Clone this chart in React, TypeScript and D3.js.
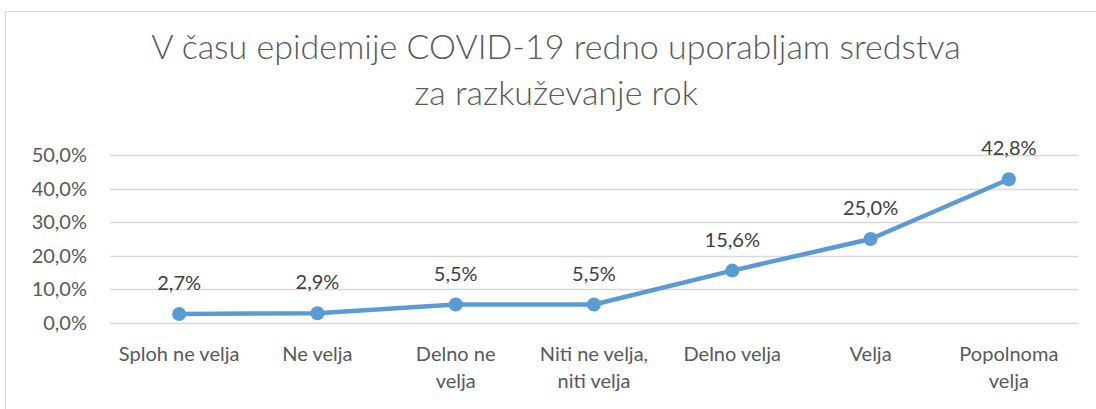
import * as d3 from "d3";
import { useEffect, useRef } from "react";

const categories = [
  "Sploh ne velja",
  "Ne velja",
  "Delno ne|velja",
  "Niti ne velja,|niti velja",
  "Delno velja",
  "Velja",
  "Popolnoma|velja",
];
const values = [2.7, 2.9, 5.5, 5.5, 15.6, 25.0, 42.8];
const yTicks = [0, 10, 20, 30, 40, 50];
const titleLines = [
  "V času epidemije COVID-19 redno uporabljam sredstva",
  "za razkuževanje rok",
];

const WIDTH = 1096;
const HEIGHT = 409;
const FONT = "Lato, 'Open Sans', sans-serif";
const TEXT = "#595959";
const LINE = "#5B9BD5";

const fmt = (v: number, dec: number) => v.toFixed(dec).replace(".", ",") + "%";

export default function App() {
  const svgRef = useRef<SVGSVGElement | null>(null);

  useEffect(() => {
    const svg = d3.select(svgRef.current);
    svg.selectAll("*").remove();

    const margin = { top: 155, right: 18, bottom: 86, left: 110 };

    // chart frame
    svg
      .append("rect")
      .attr("x", 5.5)
      .attr("y", 11.5)
      .attr("width", WIDTH)
      .attr("height", HEIGHT)
      .attr("fill", "#fff")
      .attr("stroke", "#d9d9d9");

    // title
    svg
      .append("g")
      .selectAll("text")
      .data(titleLines)
      .join("text")
      .attr("x", 556)
      .attr("y", (_, i) => 59 + i * 46)
      .attr("text-anchor", "middle")
      .attr("font-family", FONT)
      .attr("font-weight", 300)
      .attr("font-size", 34)
      .attr("fill", TEXT)
      .text((d) => d);

    const x = d3
      .scaleBand()
      .domain(categories)
      .range([margin.left, WIDTH - margin.right]);

    const y = d3
      .scaleLinear()
      .domain([0, 50])
      .range([HEIGHT - margin.bottom, margin.top]);

    // gridlines
    svg
      .append("g")
      .selectAll("line")
      .data(yTicks)
      .join("line")
      .attr("x1", margin.left)
      .attr("x2", WIDTH - margin.right)
      .attr("y1", (d) => Math.round(y(d)) + 0.5)
      .attr("y2", (d) => Math.round(y(d)) + 0.5)
      .attr("stroke", "#d9d9d9")
      .attr("stroke-width", 1.3);

    // y axis labels
    svg
      .append("g")
      .selectAll("text")
      .data(yTicks)
      .join("text")
      .attr("x", 87)
      .attr("y", (d) => y(d))
      .attr("dy", "0.35em")
      .attr("text-anchor", "end")
      .attr("font-family", FONT)
      .attr("font-size", 20)
      .attr("fill", TEXT)
      .text((d) => fmt(d, 1));

    // category labels
    const cat = svg
      .append("g")
      .selectAll("text")
      .data(categories)
      .join("text")
      .attr("text-anchor", "middle")
      .attr("font-family", FONT)
      .attr("font-size", 20)
      .attr("fill", TEXT);
    cat
      .selectAll("tspan")
      .data((d) => d.split("|").map((t) => ({ t, c: d })))
      .join("tspan")
      .attr("x", (d) => x(d.c)! + x.bandwidth() / 2)
      .attr("y", (_, i) => 361 + i * 27)
      .text((d) => d.t);

    const pts = categories.map((c, i) => ({ c, v: values[i] }));
    const cx = (d: { c: string }) => x(d.c)! + x.bandwidth() / 2;

    // line
    svg
      .append("path")
      .datum(pts)
      .attr("fill", "none")
      .attr("stroke", LINE)
      .attr("stroke-width", 4.5)
      .attr("stroke-linejoin", "round")
      .attr("stroke-linecap", "round")
      .attr(
        "d",
        d3
          .line<{ c: string; v: number }>()
          .x(cx)
          .y((d) => y(d.v))
      );

    // markers
    svg
      .append("g")
      .selectAll("circle")
      .data(pts)
      .join("circle")
      .attr("cx", cx)
      .attr("cy", (d) => y(d.v))
      .attr("r", 7)
      .attr("fill", LINE);

    // data labels
    svg
      .append("g")
      .selectAll("text")
      .data(pts)
      .join("text")
      .attr("x", cx)
      .attr("y", (d) => y(d.v) - 24)
      .attr("text-anchor", "middle")
      .attr("font-family", FONT)
      .attr("font-size", 20)
      .attr("fill", "#404040")
      .text((d) => fmt(d.v, 1));
  }, []);

  return (
    <svg
      ref={svgRef}
      width={WIDTH}
      height={HEIGHT}
      style={{ position: "absolute", left: 0, top: 0 }}
    />
  );
}
